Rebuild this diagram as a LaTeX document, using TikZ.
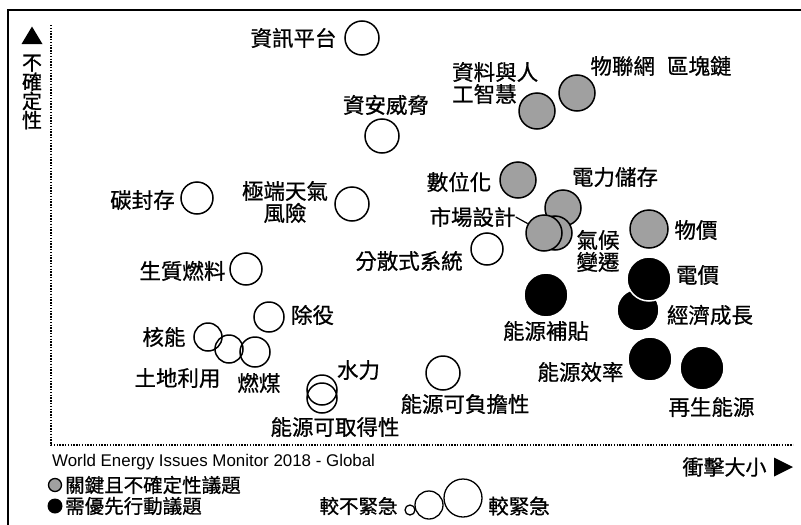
\documentclass[tikz,border=0pt]{standalone}
\usepackage{fontspec}
\setmainfont{Noto Sans CJK TC}[FakeBold=0.8]
\newfontfamily\arial{Liberation Sans}
\definecolor{bubgray}{HTML}{A0A0A0}
\tikzset{
  ob/.style={circle,draw=black,line width=1.5pt,inner sep=0pt},
  gb/.style={circle,draw=black,fill=bubgray,line width=1.5pt,inner sep=0pt},
  bb/.style={circle,draw=white,fill=black,line width=1.5pt,inner sep=0pt},
  lab/.style={inner sep=0pt,font=\fontsize{21.5}{22}\selectfont},
  leg/.style={inner sep=0pt,font=\fontsize{19.5}{20}\selectfont},
  axisdots/.style={line width=1.6pt,dash pattern=on 1.4pt off 1.4pt}
}
\begin{document}
\begin{tikzpicture}[x=1pt,y=-1pt]
\useasboundingbox (0,0) rectangle (801,525);
% frame
\draw[line width=2pt] (801,9.5) -- (7.5,9.5) -- (7.5,525);
% axes
\draw[axisdots] (51,25) -- (51,445) -- (793,445);
\fill (21.5,44) -- (32,26.5) -- (42.5,44) -- cycle;
\node[inner sep=0pt,align=center,font=\fontsize{20}{19.2}\selectfont] (ylab) at (32,92) {不\\確\\定\\性};
\node[lab,font=\fontsize{21}{22}\selectfont] (xlab) at (724.5,467) {衝擊大小};
\fill (774,457.5) -- (793,467) -- (774,476.5) -- cycle;

% open bubbles
\node[ob,minimum size=34pt] (info) at (362,38) {};
\node[lab] (infol) at (293.5,38) {資訊平台};
\node[ob,minimum size=34pt] (cyber) at (382,136) {};
\node[lab] (cyberl) at (386,105) {資安威脅};
\node[ob,minimum size=32pt] (ccs) at (197,198) {};
\node[lab] (ccsl) at (142.5,200) {碳封存};
\node[ob,minimum size=34pt] (extreme) at (352,204) {};
\node[lab,align=center] (extremel) at (285,202) {極端天氣\\風險};
\node[ob,minimum size=32pt] (decentral) at (487,249) {};
\node[lab] (decentrall) at (409,261) {分散式系統};
\node[ob,minimum size=32pt] (biofuel) at (246,269) {};
\node[lab] (biofuell) at (182.5,271) {生質燃料};
\node[ob,minimum size=30pt] (decom) at (269,317) {};
\node[lab] (decoml) at (312.5,315) {除役};
\node[ob,minimum size=28pt] (nuclear) at (208,337) {};
\node[lab] (nuclearl) at (164,337) {核能};
\node[ob,minimum size=28pt] (land) at (229,349) {};
\node[lab] (landl) at (177.5,378) {土地利用};
\node[ob,minimum size=30pt] (coal) at (255,352) {};
\node[lab] (coall) at (259,383) {燃煤};
\node[ob,minimum size=30pt] (hydro) at (322,390) {};
\node[lab] (hydrol) at (358.5,370) {水力};
\node[ob,minimum size=30pt] (access) at (322,398) {};
\node[lab] (accessl) at (335,427) {能源可取得性};
\node[ob,minimum size=34pt] (afford) at (443,373) {};
\node[lab] (affordl) at (465,404) {能源可負擔性};

% gray bubbles
\node[gb,minimum size=36pt] (ai) at (537,111) {};
\node[lab,align=left,anchor=west] (ail) at (452,83) {資料與人\\工智慧};
\node[gb,minimum size=36pt] (iot) at (577,93) {};
\node[lab] (iotl) at (661,66) {物聯網\hspace{12pt}區塊鏈};
\node[gb,minimum size=36pt] (digital) at (518,180) {};
\node[lab] (digitall) at (459,182) {數位化};
\node[gb,minimum size=36pt] (storage) at (563,208) {};
\node[lab] (storagel) at (615,177) {電力儲存};
\node[gb,minimum size=34pt] (climate) at (555,233) {};
\node[lab,align=center] (climatel) at (598,251) {氣候\\變遷};
\node[gb,minimum size=36pt] (market) at (544,233) {};
\node[lab] (marketl) at (472.5,217) {市場設計};
\draw[line width=1.2pt] (marketl.east) -- (market.150);
\node[gb,minimum size=38pt] (commodity) at (649,229) {};
\node[lab] (commodityl) at (696,230) {物價};

% black bubbles
\node[bb,minimum size=44pt] (subsidy) at (546,295) {};
\node[lab] (subsidyl) at (546,331) {能源補貼};
\node[bb,minimum size=42pt] (econ) at (638,310) {};
\node[lab] (econl) at (710,315) {經濟成長};
\node[bb,minimum size=44pt] (elec) at (649,279) {};
\node[lab] (elecl) at (697.5,275) {電價};
\node[bb,minimum size=44pt] (eff) at (650,359) {};
\node[lab] (effl) at (580.5,372) {能源效率};
\node[bb,minimum size=44pt] (renew) at (702,368) {};
\node[lab] (renewl) at (711.5,407) {再生能源};

% legend
\node[inner sep=0pt,anchor=west,font=\arial\fontsize{16.9}{18}\selectfont] (src) at (52,462) {World Energy Issues Monitor 2018 - Global};
\node[circle,draw=black,fill=bubgray,line width=1.3pt,inner sep=0pt,minimum size=13pt] (lg) at (55,485) {};
\node[leg,anchor=west] (lgl) at (65,485) {關鍵且不確定性議題};
\node[circle,fill=black,inner sep=0pt,minimum size=15pt] (lb) at (55,506) {};
\node[leg,anchor=west] (lbl) at (65,506) {需優先行動議題};
\node[leg] (lessu) at (358.5,506) {較不緊急};
\node[ob,line width=1.3pt,minimum size=10pt] (s1) at (410,510) {};
\node[ob,line width=1.3pt,minimum size=28pt] (s2) at (429,505) {};
\node[ob,line width=1.3pt,minimum size=38pt] (s3) at (463,498) {};
\node[leg,font=\fontsize{20.5}{21}\selectfont] (moreu) at (519,506) {較緊急};
\end{tikzpicture}
\end{document}
